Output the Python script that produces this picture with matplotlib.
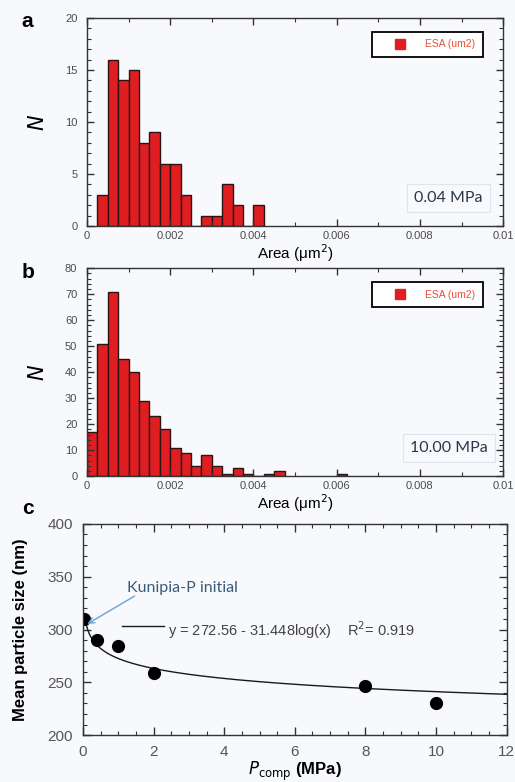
import matplotlib

matplotlib.use("Agg")
import matplotlib.pyplot as plt  # noqa: E402
import numpy as np  # noqa: E402
from matplotlib.lines import Line2D  # noqa: E402
from matplotlib.ticker import MultipleLocator  # noqa: E402

plt.rcParams["font.family"] = ["Liberation Sans", "DejaVu Sans"]

BIN_W = 0.00025

# panel a: 0.04 MPa, counts per 0.00025 um2 bin
a_left = [0.00025, 0.0005, 0.00075, 0.001, 0.00125, 0.0015, 0.00175, 0.002,
          0.00225, 0.0025, 0.00275, 0.003, 0.00325, 0.0035, 0.00375, 0.004]
a_counts = [3, 16, 14, 15, 8, 9, 6, 6, 3, 0, 1, 1, 4, 2, 0, 2]

# panel b: 10.00 MPa
b_left = [0.0, 0.00025, 0.0005, 0.00075, 0.001, 0.00125, 0.0015, 0.00175,
          0.002, 0.00225, 0.0025, 0.00275, 0.003, 0.00325, 0.0035, 0.00375,
          0.004, 0.00425, 0.0045, 0.006]
b_counts = [17, 51, 71, 45, 40, 29, 23, 18, 11, 9, 4, 8, 4, 1, 3, 1, 0, 1, 2, 1]

# panel c: mean particle size vs compaction pressure
p_comp = [0.04, 0.4, 1.0, 2.0, 8.0, 10.0]
size_nm = [310, 290.5, 284, 259, 246.5, 230.5]
FIT_A, FIT_B = 272.56, 31.448

BG = "#f7f9fc"
BAR = "#e01e22"
EDGE = "#2a1414"
TICK_C = "#4a4a4a"

fig = plt.figure(figsize=(5.15, 7.82), dpi=100, facecolor=BG)


def hist_panel(rect, left, counts, ymax, ymaj, ymin, label, letter):
    ax = fig.add_axes(rect, facecolor=BG)
    ax.bar(left, counts, width=BIN_W, align="edge", color=BAR,
           edgecolor=EDGE, linewidth=1.0)
    ax.set_xlim(0, 0.01)
    ax.set_ylim(0, ymax)
    ax.xaxis.set_major_locator(MultipleLocator(0.002))
    ax.xaxis.set_minor_locator(MultipleLocator(0.001))
    ax.yaxis.set_major_locator(MultipleLocator(ymaj))
    ax.yaxis.set_minor_locator(MultipleLocator(ymin))
    ax.set_xticks([0, 0.002, 0.004, 0.006, 0.008, 0.01])
    ax.set_xticklabels(["0", "0.002", "0.004", "0.006", "0.008", "0.01"])
    ax.tick_params(which="both", direction="in", top=True, right=True,
                   labelsize=8, labelcolor=TICK_C, color="#333333")
    ax.tick_params(which="major", length=5, width=1.0)
    ax.tick_params(axis="y", which="major", pad=7)
    ax.tick_params(which="minor", length=3, width=0.8)
    for s in ax.spines.values():
        s.set_color("#333333")
        s.set_linewidth(1.0)
    ax.set_xlabel("Area (μm$^2$)", fontsize=11, labelpad=1)
    ax.set_ylabel("$N$", fontsize=15, labelpad=12)
    proxy = Line2D([], [], marker="s", linestyle="none", color=BAR,
                   markersize=6.5)
    leg = ax.legend([proxy], ["ESA (um2)"], loc="upper right",
                    bbox_to_anchor=(0.952, 0.935), fancybox=False,
                    framealpha=1, edgecolor="black", fontsize=7.5,
                    handletextpad=0.4, borderpad=0.75, handlelength=4,
                    borderaxespad=0)
    leg.get_frame().set_linewidth(1.3)
    leg.get_frame().set_facecolor("white")
    for t in leg.get_texts():
        t.set_color("#e8503c")
    ax.text(0.869, 0.135, label, transform=ax.transAxes, fontsize=11.5,
            family=["Lato", "DejaVu Sans"], color="#2b3646",
            ha="center", va="center",
            bbox=dict(boxstyle="square,pad=0.45", facecolor=BG,
                      edgecolor="#dde6ea", linewidth=0.8))
    fig.text(0.042, rect[1] + rect[3] - 0.005, letter, fontsize=15,
             fontweight="bold", ha="left", va="center")
    return ax


hist_panel([0.169, 0.711, 0.808, 0.266], a_left, a_counts, 20, 5, 1,
           "0.04 MPa", "a")
hist_panel([0.169, 0.391, 0.808, 0.266], b_left, b_counts, 80, 10, 2,
           "10.00 MPa", "b")

# panel c
ax = fig.add_axes([0.161, 0.060, 0.823, 0.270], facecolor=BG)
xf = np.linspace(0.1, 12, 300)
ax.plot(xf, FIT_A - FIT_B * np.log10(xf), color="#1a1a1a", linewidth=1.0)
ax.plot(p_comp, size_nm, "o", color="black", markersize=8.5)
ax.set_xlim(0, 12)
ax.set_ylim(200, 400)
ax.xaxis.set_major_locator(MultipleLocator(2))
ax.xaxis.set_minor_locator(MultipleLocator(0.5))
ax.yaxis.set_major_locator(MultipleLocator(50))
ax.yaxis.set_minor_locator(MultipleLocator(10))
ax.tick_params(which="both", direction="in", top=True, right=True,
               labelsize=11, labelcolor="#555555", color="#333333")
ax.tick_params(which="major", length=6, width=1.0, pad=7)
ax.tick_params(which="minor", length=3, width=0.8)
for s in ax.spines.values():
    s.set_color("#333333")
    s.set_linewidth(1.0)
ax.set_xlabel("$\\mathit{P}_{\\mathrm{comp}}$ (MPa)", fontsize=12,
              fontweight="bold", labelpad=1)
ax.set_ylabel("Mean particle size (nm)", fontsize=12, fontweight="bold",
              labelpad=14)

ax.plot([1.1, 2.3], [303, 303], color="#1a1a1a", linewidth=1.0)
ax.text(2.4, 299.5, "y = 272.56 - 31.448log(x)    R$^2$= 0.919",
        fontsize=10.5, color="#444444", va="center")
ax.annotate("", xy=(0.06, 304), xytext=(1.53, 333),
            arrowprops=dict(arrowstyle="->", color="#6aa2d6", lw=1.0))
ax.text(1.25, 339, "Kunipia-P initial", fontsize=11.5,
        family=["Lato", "DejaVu Sans"], color="#3d5a78", va="center")
fig.text(0.042, 0.350, "c", fontsize=15, fontweight="bold", ha="left",
         va="center")

fig.savefig("out.png", dpi=100, facecolor=BG)
